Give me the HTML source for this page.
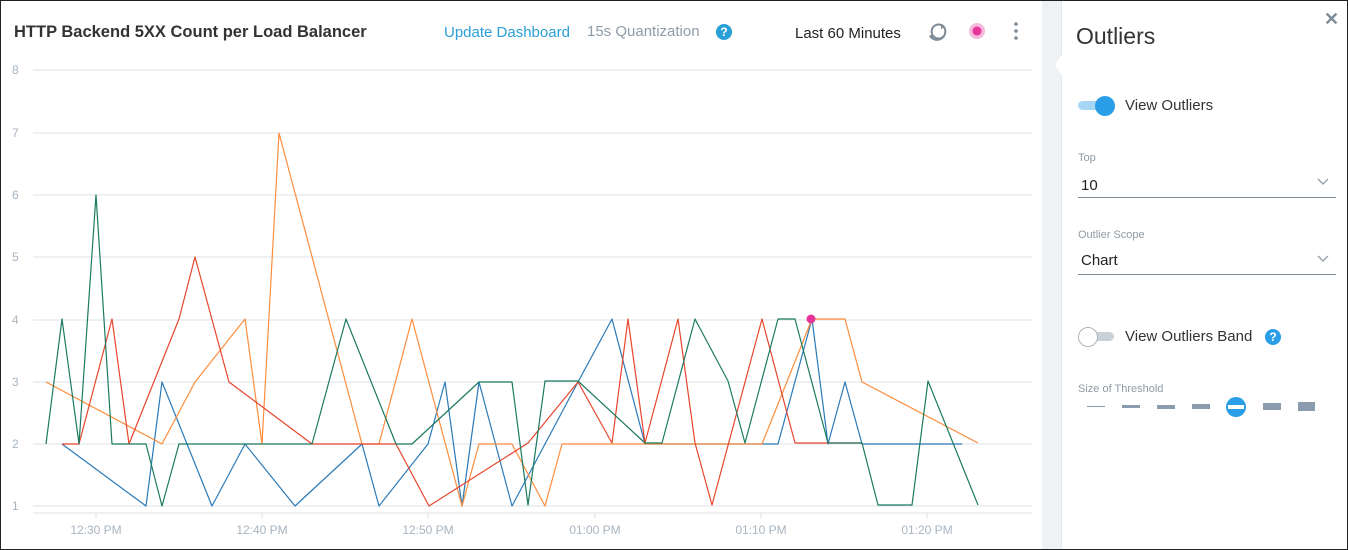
<!DOCTYPE html>
<html><head><style>
body{margin:0;width:1348px;height:550px;overflow:hidden;background:#fff;font-family:"Liberation Sans",sans-serif;}
#wrap{position:absolute;left:0;top:0;width:1346px;height:548px;border:1px solid #222;overflow:hidden;background:#fff;}
.t{position:absolute;white-space:nowrap;}
</style></head><body><div id="wrap">
<div class="t" style="left:13px;top:22px;font-size:16.5px;font-weight:bold;color:#333;">HTTP Backend 5XX Count per Load Balancer</div>
<div class="t" style="left:443px;top:23px;font-size:15px;color:#2a9fd8;">Update Dashboard</div>
<div class="t" style="left:586px;top:22px;font-size:15px;color:#8f9caa;">15s Quantization</div>
<div class="t" style="left:715px;top:23px;width:16px;height:16px;border-radius:50%;background:#2a9fd8;color:#fff;font-size:12px;font-weight:bold;text-align:center;line-height:16px;">?</div>
<div class="t" style="left:794px;top:24px;font-size:15px;color:#222;">Last 60 Minutes</div>
<svg style="position:absolute;left:-1px;top:-1px" width="1042" height="548">
<g fill="none" stroke="#7d8b97" stroke-width="2"><path d="M944 27 A7 7 0 1 0 944 36"/><path d="M930 36 A7 7 0 0 0 944 27" /></g>
<path d="M941 24 l4 3 l-4 2z M933 39 l-4 -3 l4 -2z" fill="#7d8b97"/>
<circle cx="977" cy="31" r="8" fill="#f4b8dd"/><circle cx="977" cy="31" r="4.5" fill="#e8359c"/>
<g fill="#7d8b97"><circle cx="1016" cy="24" r="1.8"/><circle cx="1016" cy="31" r="1.8"/><circle cx="1016" cy="38" r="1.8"/></g>
<g stroke="#e3e8ee" stroke-width="1.2">
<line x1="33" x2="1032" y1="70" y2="70"/><line x1="33" x2="1032" y1="133" y2="133"/><line x1="33" x2="1032" y1="195" y2="195"/><line x1="33" x2="1032" y1="257" y2="257"/><line x1="33" x2="1032" y1="320" y2="320"/><line x1="33" x2="1032" y1="382" y2="382"/><line x1="33" x2="1032" y1="444" y2="444"/><line x1="33" x2="1032" y1="506" y2="506"/>
<line x1="33" x2="1032" y1="513" y2="513"/>
<line x1="96" x2="96" y1="513" y2="519"/><line x1="262" x2="262" y1="513" y2="519"/><line x1="428" x2="428" y1="513" y2="519"/><line x1="595" x2="595" y1="513" y2="519"/><line x1="761" x2="761" y1="513" y2="519"/><line x1="927" x2="927" y1="513" y2="519"/>
</g>
<g font-size="12" fill="#a8b4c0" font-family="Liberation Sans,sans-serif">
<text x="12" y="74">8</text><text x="12" y="137">7</text><text x="12" y="199">6</text><text x="12" y="261">5</text><text x="12" y="324">4</text><text x="12" y="386">3</text><text x="12" y="448">2</text><text x="12" y="510">1</text>
<g text-anchor="middle"><text x="96" y="534">12:30 PM</text><text x="262" y="534">12:40 PM</text><text x="428" y="534">12:50 PM</text><text x="595" y="534">01:00 PM</text><text x="761" y="534">01:10 PM</text><text x="927" y="534">01:20 PM</text></g>
</g>
<g fill="none" stroke-width="1.2" stroke-linejoin="round">
<polyline stroke="#2a7ab8" points="62,444 146,506 162,382 212,506 245,444 295,506 362,444 379,506 428,444 445,382 462,506 479,382 512,506 578,382 612,319 645,444 762,444 778,444 812,319 828,444 845,382 862,444 962,444"/>
<polyline stroke="#fd8d3c" points="46,382 162,444 195,382 245,319 262,444 279,133 362,444 379,444 412,319 462,506 479,444 512,444 545,506 562,444 762,444 812,319 845,319 862,382 978,443"/>
<polyline stroke="#e8452c" points="62,444 79,444 112,319 129,444 179,319 195,257 229,382 312,444 396,444 429,506 528,443 578,382 612,443 628,319 645,443 678,319 695,443 712,505 762,319 795,443 862,443"/>
<polyline stroke="#1b7a60" points="46,444 62,319 79,444 96,195 112,444 146,444 162,506 179,444 312,444 346,319 396,444 412,444 479,382 512,382 528,505 545,381 578,381 645,443 662,443 695,319 728,381 745,443 778,319 795,319 828,443 862,443 878,505 912,505 928,381 978,505"/>
</g>
<circle cx="811" cy="319" r="4.5" fill="#e8359c"/>
</svg>
<div style="position:absolute;left:1041px;top:0;width:20px;height:548px;background:#eef2f4;"></div>
<div style="position:absolute;left:1060px;top:0;width:1px;height:548px;background:#e2e7eb;"></div>
<svg style="position:absolute;left:1053px;top:52px" width="10" height="24"><path d="M9 0 L1 12 L9 24 Z" fill="#fff"/></svg>
<div class="t" style="left:1075px;top:22px;font-size:23px;color:#333;">Outliers</div>
<div class="t" style="left:1323px;top:8px;font-size:18px;font-weight:bold;color:#7d8b97;">✕</div>
<div style="position:absolute;left:1077px;top:100px;width:34px;height:9px;border-radius:5px;background:#a6d6f3;"></div>
<div style="position:absolute;left:1094px;top:95px;width:20px;height:20px;border-radius:50%;background:#2a9fe8;"></div>
<div class="t" style="left:1124px;top:96px;font-size:15px;color:#333;">View Outliers</div>
<div class="t" style="left:1077px;top:151px;font-size:11px;color:#8f9aa5;">Top</div>
<div class="t" style="left:1080px;top:176px;font-size:15px;color:#222;">10</div>
<svg style="position:absolute;left:1316px;top:177px" width="12" height="8"><path d="M1 1 L6 6 L11 1" fill="none" stroke="#8f9caa" stroke-width="1.3"/></svg>
<div style="position:absolute;left:1077px;top:196px;width:258px;height:1px;background:#7d8b97;"></div>
<div class="t" style="left:1077px;top:228px;font-size:11px;color:#8f9aa5;">Outlier Scope</div>
<div class="t" style="left:1080px;top:251px;font-size:15px;color:#222;">Chart</div>
<svg style="position:absolute;left:1316px;top:254px" width="12" height="8"><path d="M1 1 L6 6 L11 1" fill="none" stroke="#8f9caa" stroke-width="1.3"/></svg>
<div style="position:absolute;left:1077px;top:273px;width:258px;height:1px;background:#7d8b97;"></div>
<div style="position:absolute;left:1079px;top:331px;width:34px;height:9px;border-radius:5px;background:#c9d2d9;"></div>
<div style="position:absolute;left:1077px;top:326px;width:18px;height:18px;border-radius:50%;background:#fff;border:1px solid #aab4bd;"></div>
<div class="t" style="left:1124px;top:327px;font-size:15px;color:#333;">View Outliers Band</div>
<div class="t" style="left:1264px;top:328px;width:16px;height:16px;border-radius:50%;background:#2a9fe8;color:#fff;font-size:12px;font-weight:bold;text-align:center;line-height:16px;">?</div>
<div class="t" style="left:1077px;top:382px;font-size:11px;color:#8f9aa5;">Size of Threshold</div>
<div style="position:absolute;left:1086px;top:405px;width:18px;height:1px;background:#8a9cae;"></div>
<div style="position:absolute;left:1121px;top:404px;width:18px;height:3px;background:#8a9cae;"></div>
<div style="position:absolute;left:1156px;top:404px;width:18px;height:4px;background:#8a9cae;"></div>
<div style="position:absolute;left:1191px;top:403px;width:18px;height:5px;background:#8a9cae;"></div>
<div style="position:absolute;left:1225px;top:396px;width:20px;height:20px;border-radius:50%;background:#2a9fe8;"></div>
<div style="position:absolute;left:1227px;top:404px;width:16px;height:4px;background:#fff;"></div>
<div style="position:absolute;left:1262px;top:402px;width:18px;height:7px;background:#8a9cae;"></div>
<div style="position:absolute;left:1297px;top:401px;width:17px;height:9px;background:#8a9cae;"></div>
</div></body></html>
